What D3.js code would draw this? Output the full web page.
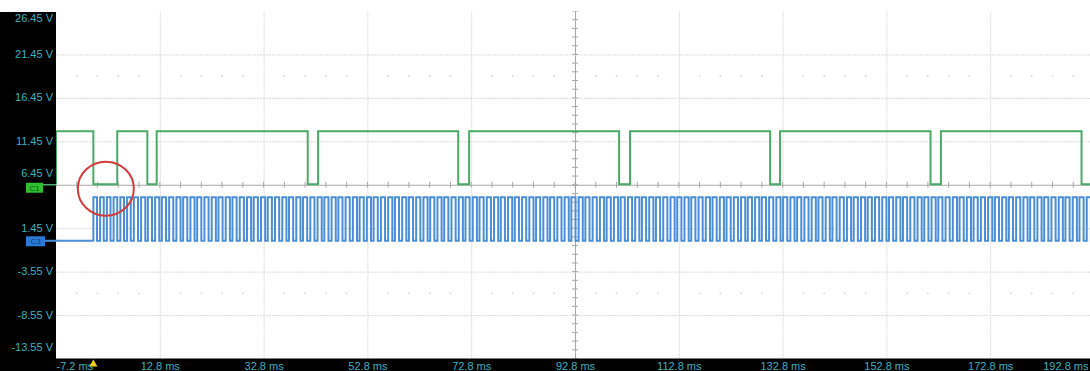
<!DOCTYPE html>
<html>
<head>
<meta charset="utf-8">
<script src="https://cdn.jsdelivr.net/npm/d3@7"></script>
<style>
  html, body { margin: 0; padding: 0; background: #ffffff; overflow: hidden; }
  svg { display: block; }
  text { font-family: "Liberation Sans", Arial, sans-serif; }
</style>
</head>
<body>
<svg id="chart" width="1090" height="371"></svg>
<script>
// ---- data ----
const xTicks = [-7.2, 12.8, 32.8, 52.8, 72.8, 92.8, 112.8, 132.8, 152.8, 172.8, 192.8];
const xTickLabels = ["-7.2 ms", "12.8 ms", "32.8 ms", "52.8 ms", "72.8 ms", "92.8 ms", "112.8 ms", "132.8 ms", "152.8 ms", "172.8 ms", "192.8 ms"];
const yTicks = [26.45, 21.45, 16.45, 11.45, 6.45, 1.45, -3.55, -8.55, -13.55];
const yTickLabels = ["26.45 V", "21.45 V", "16.45 V", "11.45 V", "6.45 V", "1.45 V", "-3.55 V", "-8.55 V", "-13.55 V"];

// Channel C1 (green): step changes (time ms, level V)
const greenTimes = [-7.2, -7.2, 0.0, 4.6, 10.4, 12.2, 41.3, 43.3, 70.3, 72.4, 101.3, 103.4, 130.4, 132.3, 161.3, 163.3, 190.4, 192.8];
const greenVolts = [6.5, 12.6, 6.5, 12.6, 6.5, 12.6, 6.5, 12.6, 6.5, 12.6, 6.5, 12.6, 6.5, 12.6, 6.5, 12.6, 6.5, 6.5];

// Channel C3 (blue): pulse rising / falling edges (ms), levels (V)
const blueLow = 0.0, blueHigh = 5.0;
const blueRise = [0.0, 1.3, 2.6, 3.9, 5.2, 6.5,
  7.8, 9.2, 10.5, 11.9, 13.2, 14.6, 16.0, 17.3, 18.7, 20.0, 21.4, 22.8, 24.1, 25.5, 26.8, 28.2, 29.6, 30.9, 32.3, 33.6,
  35.0, 36.4, 37.7, 39.1, 40.4, 41.8, 43.2, 44.5, 45.9, 47.2, 48.6, 50.0, 51.3, 52.7, 54.0, 55.4, 56.8, 58.1, 59.5, 60.8,
  62.2, 63.6, 64.9, 66.3, 67.6, 69.0, 70.4, 71.7, 73.1, 74.4, 75.8, 77.2, 78.5, 79.9, 81.2, 82.6, 84.0, 85.3, 86.7, 88.0,
  89.4, 90.8, 92.1, 93.5, 94.8, 96.2, 97.6, 98.9, 100.3, 101.6, 103.0, 104.4, 105.7, 107.1, 108.4, 109.8, 111.2, 112.5,
  113.9, 115.2, 116.6, 118.0, 119.3, 120.7, 122.0, 123.4, 124.8, 126.1, 127.5, 128.8, 130.2, 131.6, 132.9, 134.3, 135.6,
  137.0, 138.4, 139.7, 141.1, 142.4, 143.8, 145.2, 146.5, 147.9, 149.2, 150.6, 152.0, 153.3, 154.7, 156.0, 157.4, 158.8,
  160.1, 161.5, 162.8, 164.2, 165.6, 166.9, 168.3, 169.6, 171.0, 172.4, 173.7, 175.1, 176.4, 177.8, 179.2, 180.5, 181.9,
  183.2, 184.6, 186.0, 187.3, 188.7, 190.0, 191.4, 192.8];
const blueFall = [0.7, 2.0, 3.3, 4.6, 5.9, 7.2,
  8.6, 10.0, 11.3, 12.7, 14.0, 15.4, 16.8, 18.1, 19.5, 20.8, 22.2, 23.6, 24.9, 26.3, 27.6, 29.0, 30.4, 31.7, 33.1, 34.4,
  35.8, 37.2, 38.5, 39.9, 41.2, 42.6, 44.0, 45.3, 46.7, 48.0, 49.4, 50.8, 52.1, 53.5, 54.8, 56.2, 57.6, 58.9, 60.3, 61.6,
  63.0, 64.4, 65.7, 67.1, 68.4, 69.8, 71.2, 72.5, 73.9, 75.2, 76.6, 78.0, 79.3, 80.7, 82.0, 83.4, 84.8, 86.1, 87.5, 88.8,
  90.2, 91.6, 92.9, 94.3, 95.6, 97.0, 98.4, 99.7, 101.1, 102.4, 103.8, 105.2, 106.5, 107.9, 109.2, 110.6, 112.0, 113.3,
  114.7, 116.0, 117.4, 118.8, 120.1, 121.5, 122.8, 124.2, 125.6, 126.9, 128.3, 129.6, 131.0, 132.4, 133.7, 135.1, 136.4,
  137.8, 139.2, 140.5, 141.9, 143.2, 144.6, 146.0, 147.3, 148.7, 150.0, 151.4, 152.8, 154.1, 155.5, 156.8, 158.2, 159.6,
  160.9, 162.3, 163.6, 165.0, 166.4, 167.7, 169.1, 170.4, 171.8, 173.2, 174.5, 175.9, 177.2, 178.6, 180.0, 181.3, 182.7,
  184.0, 185.4, 186.8, 188.1, 189.5, 190.8, 192.2, 193.6];

// annotation (red circle) centre, in data units
const circleT = 2.4, circleV = 6.0;
const triggerT = 0.0;
const c1Level = 6.45, c3Level = 0.0;

// ---- layout ----
const W = 1090, H = 371;
const plotL = 56, plotR = 1094, plotT = 11, plotB = 358.5;
const svg = d3.select("#chart");
const x = d3.scaleLinear().domain([xTicks[0], xTicks[xTicks.length - 1]]).range([plotL, plotR]);
const y = d3.scaleLinear().domain([yTicks[yTicks.length - 1], yTicks[0]]).range([plotB, plotT]);

const teal = "#3cb2c0";
const gridCol = "#dadada";
const axisCol = "#a8a8a8";

svg.append("rect").attr("x", 0).attr("y", 0).attr("width", W).attr("height", H).attr("fill", "#fff");

// clip
svg.append("clipPath").attr("id", "plotclip").append("rect")
  .attr("x", plotL).attr("y", plotT).attr("width", W - plotL).attr("height", plotB - plotT);

const plot = svg.append("g").attr("clip-path", "url(#plotclip)");

// vertical grid
const vGrid = plot.append("g").attr("transform", `translate(0,${plotB})`)
  .call(d3.axisBottom(x).tickValues(xTicks.slice(1, -1)).tickSize(-(plotB - plotT)).tickFormat(""));
vGrid.select(".domain").remove();
vGrid.selectAll(".tick line").attr("stroke", gridCol).attr("stroke-dasharray", "2,1");

// horizontal grid
const hGrid = plot.append("g").attr("transform", `translate(${plotL},0)`)
  .call(d3.axisLeft(y).tickValues(yTicks.slice(1, -1)).tickSize(-(plotR - plotL)).tickFormat(""));
hGrid.select(".domain").remove();
hGrid.selectAll(".tick line").attr("stroke", gridCol).attr("stroke-dasharray", "2,1");

// centre axes
const cT = xTicks[5], cV = yTicks[4];
const xMinor = d3.range(xTicks[0], xTicks[xTicks.length - 1] + 0.01, 4);
const yMinor = d3.range(yTicks[yTicks.length - 1], yTicks[0] + 0.01, 1);
hGrid.selectAll(".tick").filter(d => d === cV).select("line").attr("stroke", axisCol).attr("stroke-dasharray", null);
vGrid.selectAll(".tick").filter(d => d === cT).select("line").attr("stroke", axisCol).attr("stroke-dasharray", null);
plot.append("g").selectAll("line").data(xMinor).join("line")
  .attr("x1", d => x(d)).attr("x2", d => x(d))
  .attr("y1", y(cV) - 3).attr("y2", y(cV) + 3)
  .attr("stroke", axisCol).attr("stroke-width", 1);
plot.append("g").selectAll("line").data(yMinor).join("line")
  .attr("y1", d => y(d)).attr("y2", d => y(d))
  .attr("x1", x(cT) - 3).attr("x2", x(cT) + 3)
  .attr("stroke", axisCol).attr("stroke-width", 1);

// faint dot rows
const dotRows = [18.95, -6.05];
dotRows.forEach(v => {
  plot.append("g").selectAll("circle").data(xMinor.filter((d, i) => i % 5 !== 0)).join("circle")
    .attr("cx", d => x(d)).attr("cy", y(v)).attr("r", 0.9).attr("fill", "#d4d4d4");
});

// green trace
const greenPts = greenTimes.map((t, i) => [t, greenVolts[i]]);
const stepLine = d3.line().x(d => x(d[0])).y(d => y(d[1])).curve(d3.curveStepAfter);
plot.append("path").datum(greenPts).attr("d", stepLine)
  .attr("fill", "none").attr("stroke", "#4aab68").attr("stroke-width", 2);

// blue trace
const bluePts = [[xTicks[0], blueLow]];
blueRise.forEach((r, i) => { bluePts.push([r, blueHigh]); bluePts.push([blueFall[i], blueLow]); });
plot.append("path").datum(bluePts).attr("d", stepLine)
  .attr("fill", "none").attr("stroke", "#4a8ed6").attr("stroke-width", 2);

// red annotation circle
svg.append("ellipse").attr("cx", x(circleT)).attr("cy", y(circleV)).attr("rx", 28).attr("ry", 27)
  .attr("fill", "none").attr("stroke", "#d23c3c").attr("stroke-width", 2);

// left black panel & bottom strip
svg.append("rect").attr("x", 0).attr("y", plotT + 1).attr("width", plotL).attr("height", H - plotT - 1).attr("fill", "#000");
svg.append("rect").attr("x", 0).attr("y", plotB).attr("width", W).attr("height", H - plotB).attr("fill", "#000");

// y labels
const yAx = svg.append("g").attr("transform", `translate(${plotL - 3},0)`)
  .call(d3.axisLeft(y).tickValues(yTicks).tickSize(0).tickPadding(0).tickFormat((d, i) => yTickLabels[i]));
yAx.select(".domain").remove();
yAx.selectAll(".tick text").attr("fill", teal).attr("font-size", 11)
  .attr("font-family", "'Liberation Sans', Arial, sans-serif");
yAx.selectAll(".tick").attr("transform", d => {
  let cy = Math.max(18, Math.min(347, y(d)));
  if (Math.abs(y(d) - y(c1Level)) < 4) cy -= 11;
  return `translate(0,${cy})`;
});

// x labels
const xAx = svg.append("g").attr("transform", `translate(0,${plotB})`)
  .call(d3.axisBottom(x).tickValues(xTicks).tickSize(0).tickPadding(4).tickFormat((d, i) => xTickLabels[i]));
xAx.select(".domain").remove();
xAx.selectAll(".tick text").attr("fill", teal).attr("font-size", 11).attr("dy", "0.71em")
  .attr("font-family", "'Liberation Sans', Arial, sans-serif");
xAx.selectAll(".tick text").filter((d, i) => i === 0).attr("text-anchor", "start");
xAx.selectAll(".tick text").filter((d, i) => i === xTicks.length - 1)
  .attr("text-anchor", "end").attr("dx", -(plotR - W + 2));

// trigger marker
const tx = x(triggerT);
svg.append("path").attr("d", `M${tx - 4},${plotB + 8}L${tx + 4},${plotB + 8}L${tx},${plotB + 1}Z`).attr("fill", "#f2d21a");

// channel markers
const y1 = y(c1Level);
svg.append("line").attr("x1", 43).attr("x2", plotL).attr("y1", y1).attr("y2", y1).attr("stroke", "#4aab68").attr("stroke-width", 1.5);
svg.append("rect").attr("x", 26).attr("y", y1 - 2).attr("width", 17).attr("height", 10).attr("fill", "#2fbf2f");
svg.append("text").attr("x", 34.5).attr("y", y1 + 6).attr("text-anchor", "middle").attr("font-size", 8)
  .attr("fill", "#0b5a0b").text("C1");

const y3 = y(c3Level);
svg.append("line").attr("x1", 45).attr("x2", plotL + 1).attr("y1", y3).attr("y2", y3).attr("stroke", "#4a8ed6").attr("stroke-width", 2);
svg.append("rect").attr("x", 26).attr("y", y3 - 4.5).attr("width", 19).attr("height", 10).attr("fill", "#2b7bd6");
svg.append("text").attr("x", 35.5).attr("y", y3 + 3.5).attr("text-anchor", "middle").attr("font-size", 8)
  .attr("fill", "#0b3b80").text("C3");
</script>
</body>
</html>
